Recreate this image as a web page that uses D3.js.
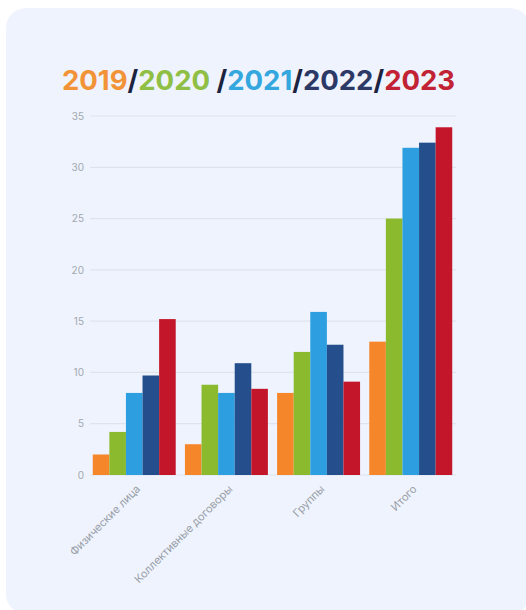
<!DOCTYPE html>
<html>
<head>
<meta charset="utf-8">
<script src="https://cdn.jsdelivr.net/npm/d3@7"></script>
<style>
	body { margin: 0; background: #ffffff; }
	#graph { width: 526px; height: 610px; }
</style>
</head>
<body>
<div id="graph"></div>
<script>
// Chart data
var categories = ["Физические лица", "Коллективные договоры", "Группы", "Итого"];
var years = ["2019", "2020", "2021", "2022", "2023"];
var values_2019 = [2, 3, 8, 13];
var values_2020 = [4.2, 8.8, 12, 25];
var values_2021 = [8, 8, 15.9, 31.9];
var values_2022 = [9.7, 10.9, 12.7, 32.4];
var values_2023 = [15.2, 8.4, 9.1, 33.9];
var y_ticks = [0, 5, 10, 15, 20, 25, 30, 35];

var series = [values_2019, values_2020, values_2021, values_2022, values_2023];
var colors = ["#f5862a", "#8cba2e", "#2d9fe0", "#244f8c", "#c4162a"];
var title_colors = ["#f29338", "#8fbf45", "#34a7df", "#2c3966", "#c22334"];

var width = 526;
var height = 610;

var svg = d3.select("#graph").append("svg")
	.attr("width", width)
	.attr("height", height);

// card background
svg.append("rect")
	.attr("x", 6)
	.attr("y", 8)
	.attr("width", 524)
	.attr("height", 606)
	.attr("rx", 20)
	.attr("fill", "#eef3fd");

// Title: years separated by slashes
var title = svg.append("text")
	.attr("x", 62)
	.attr("y", 90)
	.style("font-family", "Inter, 'Open Sans', sans-serif")
	.style("font-weight", 700)
	.style("font-size", "27.5px");

years.forEach(function(y, i) {
	if (i > 0) {
		title.append("tspan")
			.attr("fill", "#1c2340")
			.text(i == 2 ? " /" : "/");
	}
	title.append("tspan")
		.attr("fill", title_colors[i])
		.text(y);
});

// Scales
var scale_x = d3.scaleBand()
	.domain(categories)
	.range([90, 455])
	.paddingInner(0.1)
	.paddingOuter(0.03);

var scale_year = d3.scaleBand()
	.domain(years)
	.range([0, scale_x.bandwidth()]);

var scale_y = d3.scaleLinear()
	.domain([0, 35])
	.range([475, 116]);

// Grid lines
svg.append("g")
	.selectAll("line")
	.data(y_ticks)
	.enter()
	.append("line")
	.attr("x1", 90)
	.attr("x2", 456)
	.attr("y1", function(d) { return scale_y(d); })
	.attr("y2", function(d) { return scale_y(d); })
	.style("stroke", "#dfe4ec")
	.style("stroke-width", 1.2);

// Y axis
var y_axis = svg.append("g")
	.attr("transform", "translate(88,0)")
	.call(d3.axisLeft(scale_y).tickValues(y_ticks).tickSize(0).tickPadding(4));
y_axis.select(".domain").remove();
y_axis.selectAll("text")
	.style("font-family", "Inter, sans-serif")
	.style("font-size", "10px")
	.style("fill", "#a3a8b0");

// Bars
series.forEach(function(vals, s) {
	svg.append("g")
		.selectAll("rect")
		.data(vals)
		.enter()
		.append("rect")
		.attr("x", function(d, i) { return scale_x(categories[i]) + scale_year(years[s]); })
		.attr("y", function(d) { return scale_y(d); })
		.attr("width", scale_year.bandwidth())
		.attr("height", function(d) { return scale_y(0) - scale_y(d); })
		.attr("fill", colors[s]);
});

// X axis labels
var x_axis = svg.append("g")
	.attr("transform", "translate(0,475)")
	.call(d3.axisBottom(scale_x).tickSize(0).tickPadding(0));
x_axis.select(".domain").remove();
x_axis.selectAll("text")
	.attr("transform", "translate(4,12) rotate(-45)")
	.attr("dy", "0.35em")
	.style("text-anchor", "end")
	.style("font-family", "Inter, sans-serif")
	.style("font-size", "11px")
	.style("fill", "#9aa0a8");
</script>
</body>
</html>
